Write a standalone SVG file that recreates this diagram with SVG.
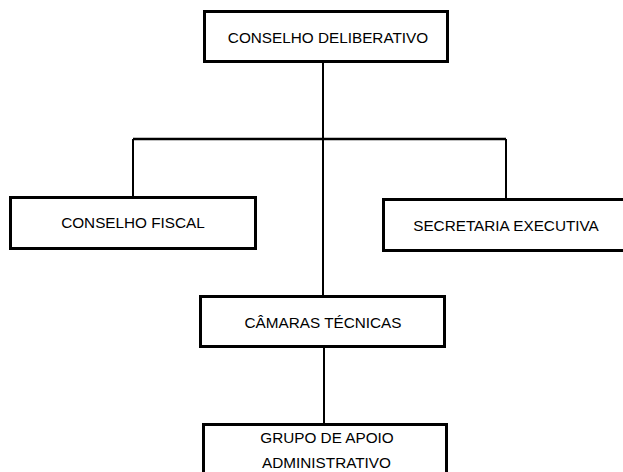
<svg xmlns="http://www.w3.org/2000/svg" width="623" height="472" viewBox="0 0 623 472">
<style>
.box{fill:#fff;stroke:#000;stroke-width:3}
.lbl{font-family:"Liberation Sans",Arial,sans-serif;font-size:15.3px;fill:#000;text-anchor:middle}
.conn{stroke:#000;stroke-width:2;fill:none}
</style>
<rect width="623" height="472" fill="#fff"/>
<g id="connectors">
<path class="conn" d="M323 63V295"/>
<path class="conn" d="M133 139H506" style="stroke-width:2.5"/>
<path class="conn" d="M133 139V196"/>
<path class="conn" d="M506 139V199"/>
<path class="conn" d="M324 348V424"/>
</g>
<g id="conselho-deliberativo">
<rect class="box" x="204.5" y="11.5" width="243" height="50"/>
<text class="lbl" x="328" y="43">CONSELHO DELIBERATIVO</text>
</g>
<g id="conselho-fiscal">
<rect class="box" x="10.5" y="197.5" width="245" height="51"/>
<text class="lbl" x="133" y="228">CONSELHO FISCAL</text>
</g>
<g id="secretaria-executiva">
<rect class="box" x="383.5" y="199.5" width="260" height="51"/>
<text class="lbl" x="506" y="230.5">SECRETARIA EXECUTIVA</text>
</g>
<g id="camaras-tecnicas">
<rect class="box" x="200.5" y="296.5" width="244" height="50"/>
<text class="lbl" x="323" y="328">CÂMARAS TÉCNICAS</text>
</g>
<g id="grupo-apoio">
<rect class="box" x="203.5" y="424.5" width="243" height="60"/>
<text class="lbl" x="327" y="443">GRUPO DE APOIO</text>
<text class="lbl" x="326.5" y="468">ADMINISTRATIVO</text>
</g>
</svg>
